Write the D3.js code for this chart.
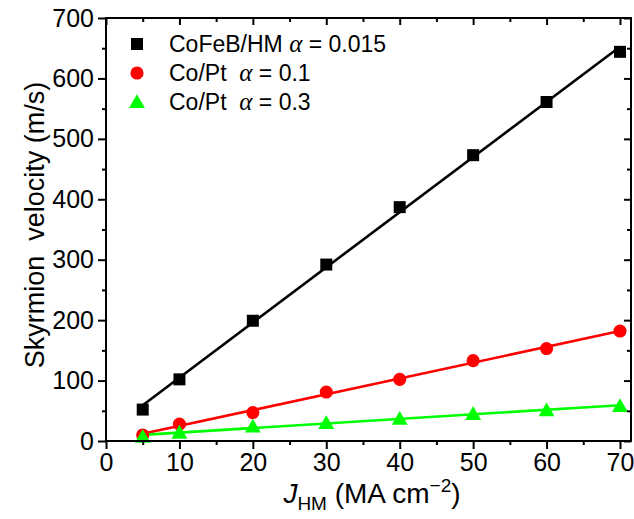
<!DOCTYPE html>
<html><head><meta charset="utf-8">
<script src="https://cdn.jsdelivr.net/npm/d3@7"></script>
<style>
body{margin:0;background:#fff;}
svg text{font-family:"Liberation Sans",Arial,sans-serif;fill:#000;}
</style></head>
<body><svg id="c" width="634" height="519"></svg>
<script>
const xValues = [5, 10, 20, 30, 40, 50, 60, 70];
const cofebValues = [52, 102, 199, 292, 387, 473, 561, 644];
const coPt01Values = [10, 28, 47, 81, 102, 133, 153, 182];
const coPt03Values = [7, 14, 24, 30, 37, 45, 51, 58];
const xTicks = [0, 10, 20, 30, 40, 50, 60, 70];
const yTicks = [0, 100, 200, 300, 400, 500, 600, 700];
const seriesNames = ["CoFeB/HM", "Co/Pt", "Co/Pt"];
const alphaLabels = ["= 0.015", "= 0.1", "= 0.3"];

const svg = d3.select("#c");
const L = 106, R = 631, T = 18, B = 441;
const x = d3.scaleLinear().domain([0, 71.5]).range([L, R]);
const y = d3.scaleLinear().domain([0, 700]).range([B, T]);

const series = [
  {vals: cofebValues, color: "#000000", shape: d3.symbolSquare, size: 144},
  {vals: coPt01Values, color: "#ff0000", shape: d3.symbolCircle, size: 135},
  {vals: coPt03Values, color: "#00ff00", shape: d3.symbolTriangle, size: 110}
];

function fit(xs, ys){
  const n = xs.length, mx = d3.mean(xs), my = d3.mean(ys);
  let sxy = 0, sxx = 0;
  for (let i = 0; i < n; i++){ sxy += (xs[i]-mx)*(ys[i]-my); sxx += (xs[i]-mx)**2; }
  const b = sxy/sxx; return {a: my - b*mx, b};
}

series.forEach(s => {
  const f = fit(xValues, s.vals);
  const x0 = d3.min(xValues), x1 = d3.max(xValues);
  svg.append("line")
    .attr("x1", x(x0)).attr("y1", y(f.a + f.b*x0))
    .attr("x2", x(x1)).attr("y2", y(f.a + f.b*x1))
    .attr("stroke", s.color).attr("stroke-width", 2.6);
});
series.forEach(s => {
  svg.append("g").selectAll("path").data(xValues).join("path")
    .attr("d", d3.symbol().type(s.shape).size(s.size))
    .attr("transform", (d,i) => `translate(${x(d)},${y(s.vals[i]) + (s.shape===d3.symbolTriangle?1.5:0)})`)
    .attr("fill", s.color);
});

const xMinor = d3.range(5, 71, 10);
const yMinor = d3.range(50, 700, 100);
const fmt = d3.format("d");
svg.append("g").attr("transform", `translate(0,${B})`)
  .call(d3.axisBottom(x).tickValues(xTicks).tickSize(8).tickPadding(4).tickFormat(fmt));
svg.append("g").attr("transform", `translate(${L},0)`)
  .call(d3.axisLeft(y).tickValues(yTicks).tickSize(8).tickPadding(4).tickFormat(fmt));
svg.append("g").attr("transform", `translate(0,${T})`)
  .call(d3.axisBottom(x).tickValues(xTicks).tickSize(7).tickFormat(""));
svg.append("g").attr("transform", `translate(${R},0)`)
  .call(d3.axisLeft(y).tickValues(yTicks).tickSize(7).tickFormat(""));
svg.append("g").attr("transform", `translate(0,${B})`).call(d3.axisBottom(x).tickValues(xMinor).tickSize(4).tickFormat(""));
svg.append("g").attr("transform", `translate(${L},0)`).call(d3.axisLeft(y).tickValues(yMinor).tickSize(4).tickFormat(""));
svg.append("g").attr("transform", `translate(0,${T})`).call(d3.axisBottom(x).tickValues(xMinor).tickSize(4).tickFormat(""));
svg.append("g").attr("transform", `translate(${R},0)`).call(d3.axisLeft(y).tickValues(yMinor).tickSize(4).tickFormat(""));
svg.selectAll(".domain").remove();
svg.selectAll(".tick line").attr("stroke", "#000").attr("stroke-width", 2);
svg.selectAll(".tick text").style("font-size", "25px").attr("fill", "#000");
svg.append("rect").attr("x", L).attr("y", T).attr("width", R-L).attr("height", B-T)
  .attr("fill", "none").attr("stroke", "#000").attr("stroke-width", 2);

const yl = svg.append("text").attr("transform", `translate(44,225) rotate(-90)`)
  .attr("text-anchor", "middle").style("font-size", "27px").attr("xml:space", "preserve");
yl.text("Skyrmion  velocity (m/s)");

const xl = svg.append("text").attr("x", 372).attr("y", 503).attr("text-anchor", "middle").style("font-size", "28px");
xl.append("tspan").text("J").style("font-style", "italic");
xl.append("tspan").text("HM").style("font-size", "19px").attr("dy", 7);
xl.append("tspan").text(" (MA cm").attr("dy", -7);
xl.append("tspan").text("\u22122").style("font-size", "19px").attr("dy", -11);
xl.append("tspan").text(")").attr("dy", 11);

const lg = svg.append("g");
series.forEach((s, i) => {
  const yy = 44 + i*29;
  lg.append("path").attr("d", d3.symbol().type(s.shape).size(s.size))
    .attr("transform", `translate(137,${yy + (s.shape===d3.symbolTriangle?1.5:0)})`).attr("fill", s.color);
  const t = lg.append("text").attr("x", 169).attr("y", yy + 8).style("font-size", "23px").attr("xml:space", "preserve");
  t.append("tspan").text(seriesNames[i] + (i === 0 ? " " : "  "));
  t.append("tspan").text("\u03b1").style("font-family", "'Liberation Serif','Times New Roman',serif").style("font-style", "italic").style("font-size", "25px");
  t.append("tspan").text(" " + alphaLabels[i]);
});
</script></body></html>
